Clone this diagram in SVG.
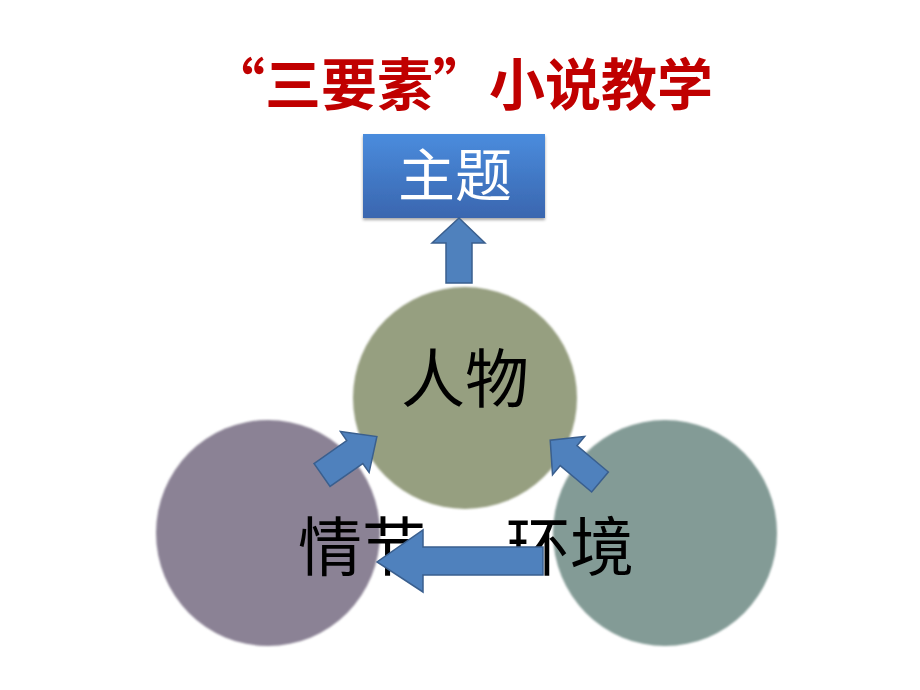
<svg xmlns="http://www.w3.org/2000/svg" width="920" height="690" viewBox="0 0 920 690">
<defs>
<linearGradient id="boxGrad" x1="0" y1="0" x2="0" y2="1">
<stop offset="0" stop-color="#4A8CDD"/>
<stop offset="1" stop-color="#3A66AF"/>
</linearGradient>
<filter id="soft" x="-5%" y="-5%" width="110%" height="110%">
<feGaussianBlur stdDeviation="0.8"/>
</filter>
<filter id="shadow" x="-10%" y="-10%" width="120%" height="130%">
<feDropShadow dx="0" dy="2" stdDeviation="1.5" flood-color="#000" flood-opacity="0.35"/>
</filter>
</defs>
<style>
.title{font-family:"Noto Sans CJK SC","Noto Sans CJK TC",sans-serif;font-weight:bold;font-size:56px;fill:#C00000}
.lbl{font-family:"Noto Sans CJK SC",sans-serif;font-size:64px;fill:#000}
.boxlbl{font-family:"Noto Sans CJK SC",sans-serif;font-size:57px;fill:#FFFFFF}
.arrow{fill:#4F81BD;stroke:#3A5F8E;stroke-width:1.5;stroke-linejoin:miter}
</style>
<rect width="920" height="690" fill="#FFFFFF"/>
<g id="title">
<text class="title" x="461" y="105" text-anchor="middle">“三要素”小说教学</text>
</g>
<g id="node-qingjie">
<ellipse cx="268" cy="533" rx="112" ry="113" fill="#8B8295" filter="url(#soft)"/>
</g>
<g id="node-huanjing">
<ellipse cx="665" cy="533" rx="112" ry="113" fill="#839B96" filter="url(#soft)"/>
</g>
<g id="node-renwu">
<ellipse cx="465" cy="398" rx="112" ry="111" fill="#969F80" filter="url(#soft)"/>
<text class="lbl" x="465" y="402" text-anchor="middle">人物</text>
</g>
<g id="labels">
<text class="lbl" x="362" y="570" text-anchor="middle">情节</text>
<text class="lbl" x="570" y="570" text-anchor="middle">环境</text>
</g>
<g id="node-zhuti">
<rect x="363" y="134" width="182" height="84" fill="url(#boxGrad)" filter="url(#shadow)"/>
<text class="boxlbl" x="455" y="196" text-anchor="middle">主题</text>
</g>
<g id="connectors">
<polygon class="arrow" points="446,283 446,243 432,243 459,218 485,243 472,243 472,283"/>
<polygon class="arrow" transform="translate(322,475) rotate(-35)" points="0,-14 40,-14 40,-25 67,0 40,25 40,14 0,14"/>
<polygon class="arrow" transform="translate(600,482) rotate(-140)" points="0,-13 41,-13 41,-25 65,0 41,25 41,13 0,13"/>
<polygon class="arrow" points="543,547 423,547 423,530 377,562 423,592 423,575 543,575"/>
</g>
</svg>
